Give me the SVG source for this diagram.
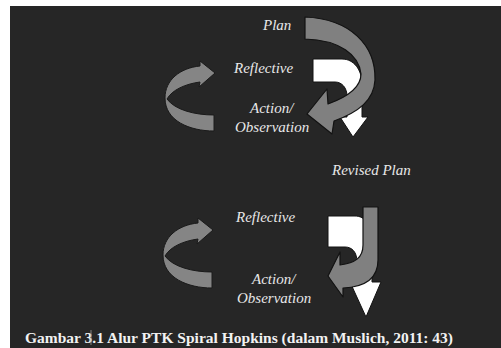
<svg xmlns="http://www.w3.org/2000/svg" width="501" height="348" viewBox="0 0 501 348">
<style>
.lbl{font-family:"Liberation Serif","Times New Roman",serif;font-style:italic;font-size:15px;fill:#e8e8e8}
.cap{font-family:"Liberation Serif","Times New Roman",serif;font-weight:bold;font-size:15px;fill:#f2f2f2}
.g{fill:#808080;stroke:#121212;stroke-width:1.2;stroke-linejoin:round}
.w{fill:#ffffff;stroke:#121212;stroke-width:1}
.gl{fill:#858585;stroke:#1a1a1a;stroke-width:1}
</style>
<rect x="0" y="0" width="501" height="348" fill="#ffffff"/>
<rect x="10" y="6" width="491" height="342" fill="#262626"/>
<g id="top-white-arrow">
<path class="w" d="M313,59 L342,59 C354,59 362,70 362,84 L362,117 L368,117 L353,137 L340,117 L347,117 L347,96 C347,88 342,82 335,82 L313,82 Z"/>
</g>
<g id="top-gray-arrow">
<path class="g" d="M305,17 C350,19 376,45 375,80 C374,100 359,112 334,121 L332,134 L307,114 L327,89 L328,104 C350,96 361,86 361,74 C359,55 340,40 305,39 Z"/>
</g>
<g id="top-left-arrow">
<path class="gl" d="M214,131 C190,131 165,121 165,98 C165,80 180,68 200,66 L200,61 L215,73 L199,87 L200,82 C185,84 172,90 167,99 C175,110 195,115 214,115 Z"/>
</g>
<g id="bottom-white-arrow">
<path class="w" d="M328,216 L355,216 C365,216 372,225 372,240 L372,282 L381,282 L366,317 L350,282 L357,282 L357,262 C357,252 352,247 345,247 L328,247 Z"/>
</g>
<g id="bottom-gray-arrow">
<path class="g" d="M363,207 L378,207 L378,260 C378,278 365,287 343,288 L343,297 L328,276 L340,252 L340,265 C355,263 363,258 363,245 Z"/>
</g>
<g id="bottom-left-arrow" transform="translate(-2,157)">
<path class="gl" d="M214,131 C190,131 165,121 165,98 C165,80 180,68 200,66 L200,61 L215,73 L199,87 L200,82 C185,84 172,90 167,99 C175,110 195,115 214,115 Z"/>
</g>
<g id="labels">
<text class="lbl" x="263" y="30">Plan</text>
<text class="lbl" x="234" y="73">Reflective</text>
<text class="lbl" x="250" y="113">Action/</text>
<text class="lbl" x="235" y="132">Observation</text>
<text class="lbl" x="332" y="175">Revised Plan</text>
<text class="lbl" x="236" y="222">Reflective</text>
<text class="lbl" x="252" y="284">Action/</text>
<text class="lbl" x="237" y="303">Observation</text>
</g>
<g id="caption">
<text class="cap" x="25" y="343" textLength="428" lengthAdjust="spacingAndGlyphs">Gambar 3.1 Alur PTK Spiral Hopkins (dalam Muslich, 2011: 43)</text>
<line x1="91" y1="330" x2="91" y2="345" stroke="#9a9a9a" stroke-width="0.8"/>
</g>
</svg>
